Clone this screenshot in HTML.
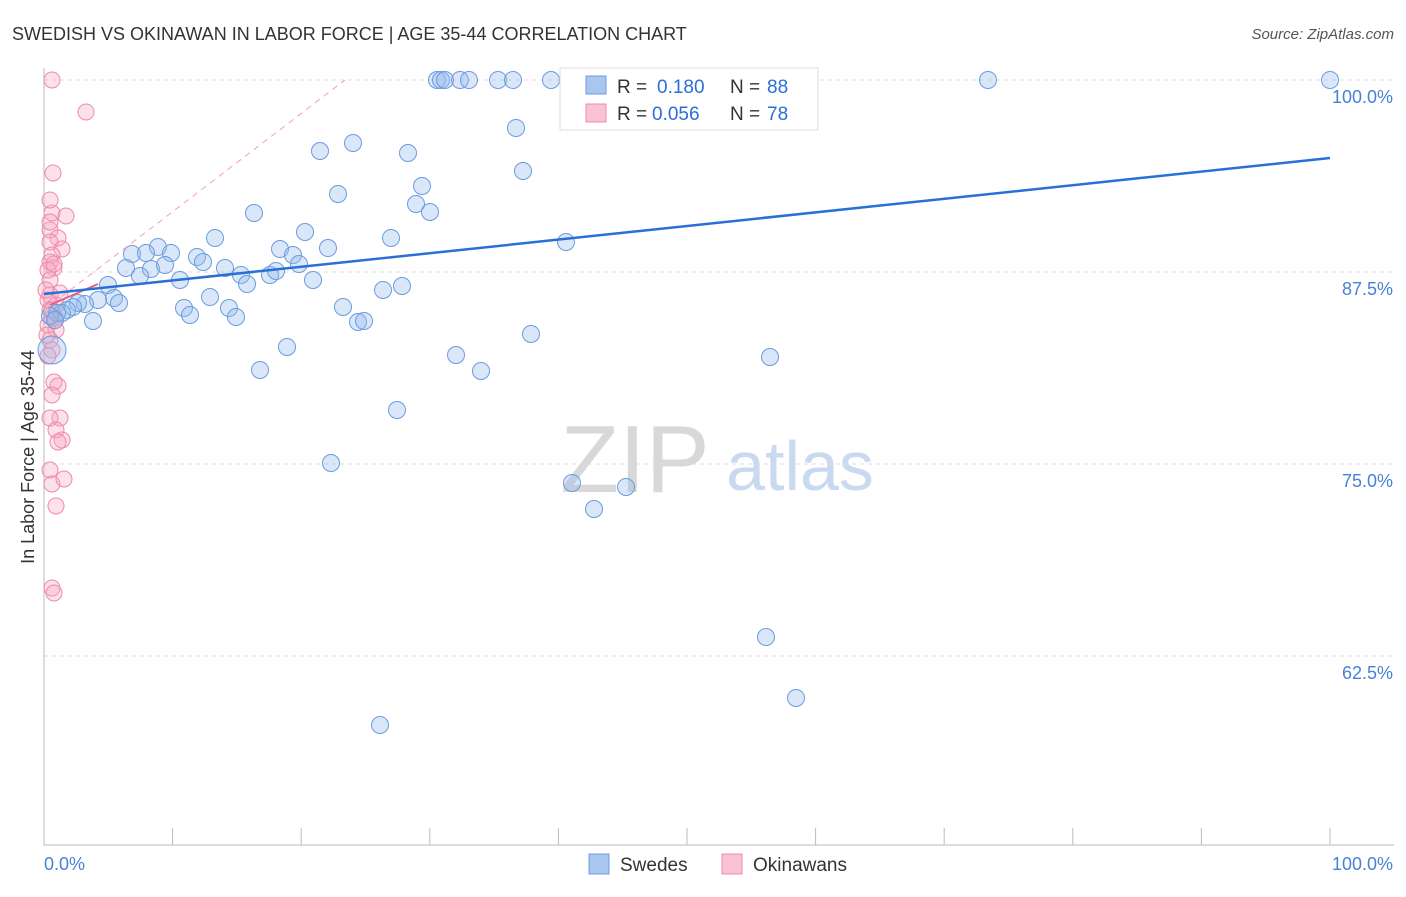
<!DOCTYPE html>
<html><head><meta charset="utf-8"><style>
body{margin:0;background:#fff;font-family:"Liberation Sans",sans-serif;}
svg text{font-family:"Liberation Sans",sans-serif;}
</style></head><body>
<svg id="chart" width="1406" height="892" viewBox="0 0 1406 892">
<text x="12" y="40" font-size="18" fill="#333">SWEDISH VS OKINAWAN IN LABOR FORCE | AGE 35-44 CORRELATION CHART</text>
<text x="1394" y="39" font-size="15" fill="#555" font-style="italic" text-anchor="end">Source: ZipAtlas.com</text>
<text x="34" y="457" font-size="18" fill="#333" transform="rotate(-90 34 457)" text-anchor="middle">In Labor Force | Age 35-44</text>
<text x="635" y="492" font-size="96" fill="#d8d8d8" font-family="Liberation Serif" text-anchor="middle">ZIP</text>
<text x="800" y="490" font-size="70" fill="#c9d9f0" text-anchor="middle">atlas</text>
<g id="grid"></g><g id="marks"></g>
<g>
<rect x="560" y="68" width="258" height="62" fill="#fff" stroke="#ddd"/>
<rect x="586" y="76" width="20" height="18" fill="#a9c6ef" stroke="#6a9ce0"/>
<rect x="586" y="104" width="20" height="18" fill="#f8c3d2" stroke="#ee8aa8"/>
<text x="617" y="93" font-size="19" fill="#333">R =</text>
<text x="657" y="93" font-size="19" fill="#2a6fd6">0.180</text>
<text x="730" y="93" font-size="19" fill="#333">N =</text>
<text x="767" y="93" font-size="19" fill="#2a6fd6">88</text>
<text x="617" y="120" font-size="19" fill="#333">R =</text>
<text x="652" y="120" font-size="19" fill="#2a6fd6">0.056</text>
<text x="730" y="120" font-size="19" fill="#333">N =</text>
<text x="767" y="120" font-size="19" fill="#2a6fd6">78</text>
</g>
<g>
<rect x="589" y="854" width="20" height="20" fill="#a9c6ef" stroke="#6a9ce0"/>
<text x="620" y="871" font-size="19" fill="#333">Swedes</text>
<rect x="722" y="854" width="20" height="20" fill="#f8c3d2" stroke="#ee8aa8"/>
<text x="753" y="871" font-size="19" fill="#333">Okinawans</text>
</g>
</svg>
<script>
const yTicks=[100,87.5,75,62.5];
const yTickLabels=["100.0%","87.5%","75.0%","62.5%"];
const xEndLabels=["0.0%","100.0%"];
const swedesPx=[[437,80],[441,80],[445,80],[460,80],[469,80],[498,80],[513,80],[551,80],[587,80],[661,80],[988,80],[1330,80],[516,128],[320,151],[353,143],[408,153],[523,171],[338,194],[422,186],[416,204],[430,212],[254,213],[305,232],[215,238],[391,238],[566,242],[158,247],[132,254],[146,253],[171,253],[280,249],[293,255],[328,248],[197,257],[203,262],[299,264],[126,268],[151,269],[165,265],[225,268],[241,275],[270,275],[276,271],[247,284],[313,280],[140,276],[180,280],[108,285],[383,290],[402,286],[210,297],[114,298],[119,303],[98,300],[85,304],[78,303],[73,307],[67,310],[62,313],[57,313],[50,316],[184,308],[190,315],[229,308],[236,317],[343,307],[93,321],[358,322],[364,321],[531,334],[287,347],[456,355],[770,357],[260,370],[481,371],[397,410],[331,463],[572,483],[626,487],[594,509],[766,637],[796,698],[380,725],[55,320]];
const okiPx=[[52,80],[86,112],[53,173],[52,213],[66,216],[50,230],[58,238],[50,242],[62,249],[52,255],[50,262],[54,268],[50,280],[60,293],[50,295],[48,300],[56,305],[50,310],[52,318],[48,325],[56,330],[50,340],[52,350],[48,356],[54,382],[58,386],[52,395],[60,418],[50,418],[56,430],[62,440],[58,442],[50,470],[52,484],[64,479],[56,506],[52,588],[54,593],[50,200],[55,318],[46,290],[48,270],[50,222],[54,264],[47,335],[52,310]];
const swedesX=swedesPx.map(p=>(p[0]-44)/12.86), swedesY=swedesPx.map(p=>100-(p[1]-80)/15.36);
const okiX=okiPx.map(p=>(p[0]-44)/12.86), okiY=okiPx.map(p=>100-(p[1]-80)/15.36);
const X0=44,X1=1330,Y100=80,PPY=15.36;
const sx=v=>X0+v*(X1-X0)/100, sy=v=>Y100+(100-v)*PPY;
const ns="http://www.w3.org/2000/svg";
function mk(t,a,parent){const e=document.createElementNS(ns,t);for(const k in a)e.setAttribute(k,a[k]);parent.appendChild(e);return e;}
const grid=document.getElementById('grid'),marks=document.getElementById('marks');
yTicks.forEach((t,i)=>{
 const l=mk('line',{x1:44,x2:1394,y1:sy(t),y2:sy(t),stroke:'#ddd','stroke-dasharray':'4 4'},grid);
 
 
 const tx=mk('text',{x:1393,y:sy(t)+23,'font-size':18,fill:'#4a80d8','text-anchor':'end'},grid);
 tx.textContent=yTickLabels[i];
 
 
});
const ax=mk('line',{x1:44,x2:44,y1:68,y2:845,stroke:'#bbb'},grid);


const bx=mk('line',{x1:44,x2:1394,y1:845,y2:845,stroke:'#bbb'},grid);


for(let i=0;i<=10;i++){const t=mk('line',{x1:sx(i*10),x2:sx(i*10),y1:828,y2:845,stroke:'#bbb'},grid);
 
 }
xEndLabels.forEach((s,i)=>{const t=mk('text',{x:i?1393:44,y:870,'font-size':18,fill:'#4a80d8','text-anchor':i?'end':'start'},grid);t.textContent=s;
 
 });
okiX.forEach((x,i)=>{const c=mk('circle',{cx:sx(x),cy:sy(okiY[i]),r:8,fill:'rgba(246,170,195,0.35)',stroke:'#ee8aa8','stroke-width':1},marks);
 
 });
swedesX.forEach((x,i)=>{const c=mk('circle',{cx:sx(x),cy:sy(swedesY[i]),r:8.5,fill:'rgba(150,185,235,0.35)',stroke:'#6a9ce0','stroke-width':1},marks);
 
 });
const big=mk('circle',{cx:52,cy:350,r:14,fill:'rgba(150,185,235,0.35)',stroke:'#6a9ce0'},marks);


const pd=mk('line',{x1:44,y1:310,x2:345,y2:80,stroke:'#f0a0b8','stroke-dasharray':'6 5','stroke-width':1},marks);


const ps=mk('line',{x1:50,y1:305,x2:98,y2:284,stroke:'#e8608a','stroke-width':2},marks);


const bl=mk('line',{x1:44,y1:294,x2:1330,y2:158,stroke:'#2a6fd6','stroke-width':2.5},marks);


</script>
</body></html>
